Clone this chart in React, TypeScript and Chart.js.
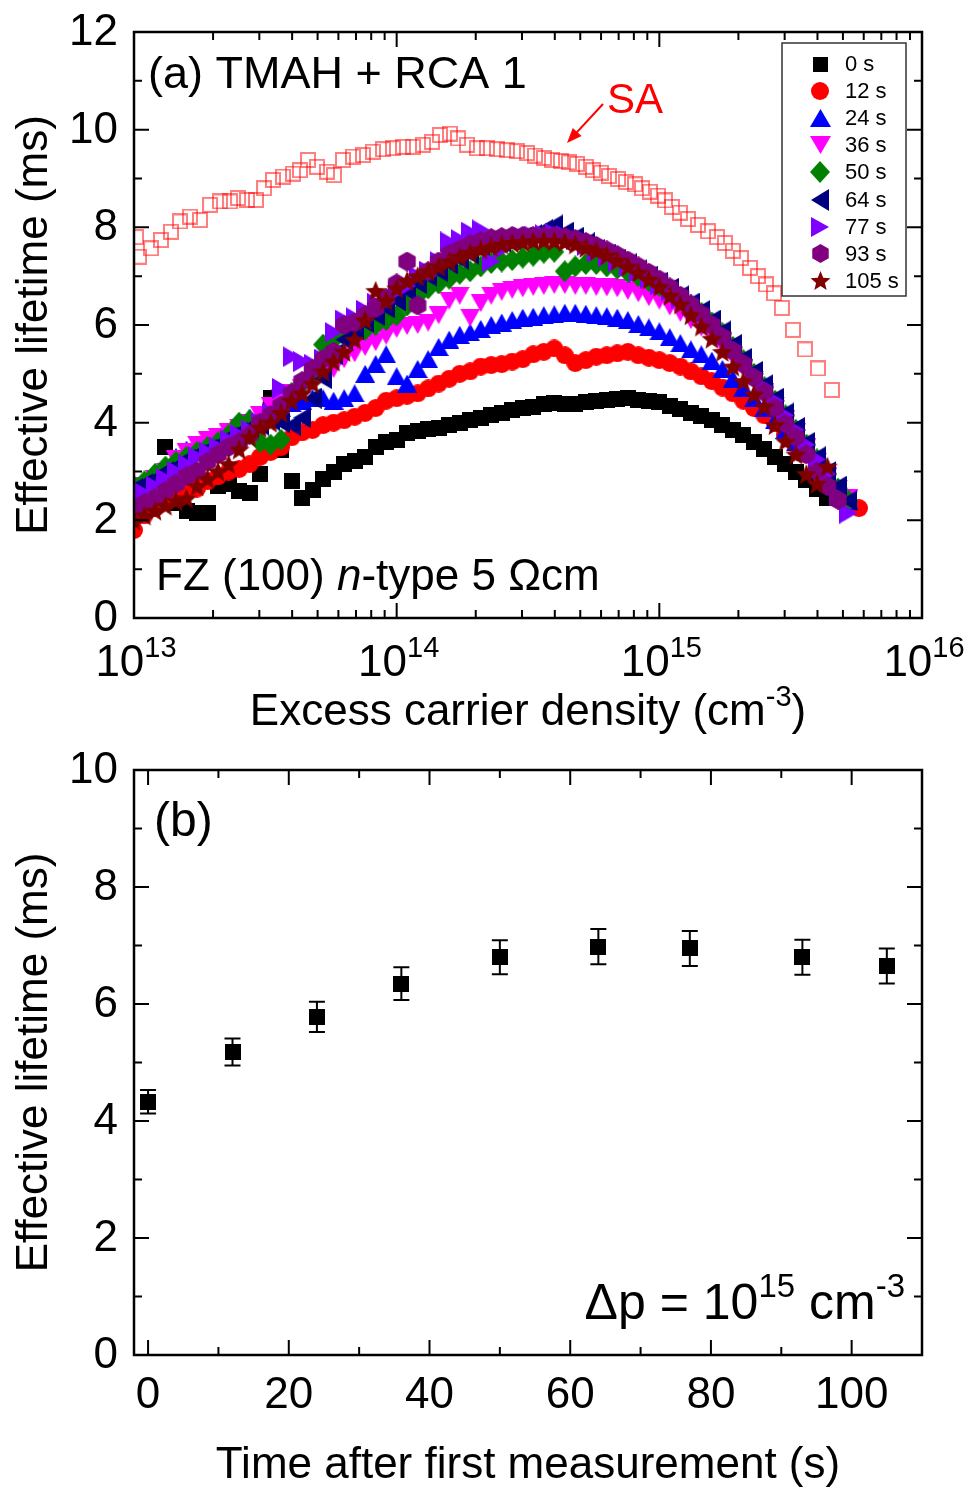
import React, { useEffect, useRef } from 'react';
import { Chart, registerables } from 'chart.js';

Chart.register(...registerables);

const FONT = '"Liberation Sans", Arial, Helvetica, sans-serif';

// ---------------- Panel (a) data ----------------
// shared excess-carrier-density grid (cm^-3)
const densityGrid = [
  1.000e13, 1.096e13, 1.202e13, 1.318e13, 1.445e13, 1.585e13, 1.738e13, 1.905e13, 2.089e13, 2.291e13,
  2.512e13, 2.754e13, 3.020e13, 3.311e13, 3.631e13, 3.981e13, 4.365e13, 4.786e13, 5.248e13, 5.754e13,
  6.310e13, 6.918e13, 7.586e13, 8.318e13, 9.120e13, 1.000e14, 1.096e14, 1.202e14, 1.318e14, 1.445e14,
  1.585e14, 1.738e14, 1.905e14, 2.089e14, 2.291e14, 2.512e14, 2.754e14, 3.020e14, 3.311e14, 3.631e14,
  3.981e14, 4.365e14, 4.786e14, 5.248e14, 5.754e14, 6.310e14, 6.918e14, 7.586e14, 8.318e14, 9.120e14,
  1.000e15, 1.096e15, 1.202e15, 1.318e15, 1.445e15, 1.585e15, 1.738e15, 1.905e15, 2.089e15, 2.291e15,
  2.512e15, 2.754e15, 3.020e15, 3.311e15, 3.631e15, 3.981e15, 4.365e15, 4.786e15, 5.248e15, 5.754e15,
];

const tau0s = [
  2.2, 2.3, 2.45, 3.5, 2.35, 2.2, 2.15, 2.15, 2.7, 2.75,
  2.6, 2.55, 2.95, 4.5, 3.45, 2.8, 2.45, 2.62, 2.85, 3.0,
  3.15, 3.22, 3.3, 3.5, 3.6, 3.65, 3.78, 3.83, 3.87, 3.9,
  3.95, 4.0, 4.05, 4.1, 4.15, 4.2, 4.25, 4.3, 4.33, 4.38,
  4.4, 4.38, 4.38, 4.42, 4.45, 4.47, 4.48, 4.5, 4.47, 4.45,
  4.42, 4.35, 4.28, 4.2, 4.13, 4.05, 3.95, 3.85, 3.75, 3.6,
  3.47, 3.3, 3.15, 3.0, 2.83, 2.65, 2.45, null, null, null,
];
const tau12s = [
  1.8, 2.1, 2.25, 2.4, 2.5, 2.6, 2.65, 2.8, 2.9, 3.0,
  3.05, 3.15, 3.3, 3.4, 3.5, 3.7, 3.8, 3.85, 3.95, 4.0,
  4.05, 4.12, 4.2, 4.3, 4.45, 4.5, 4.55, 4.6, 4.7, 4.8,
  4.9, 5.0, 5.05, 5.15, 5.18, 5.2, 5.25, 5.3, 5.4, 5.45,
  5.52, 5.38, 5.22, 5.28, 5.35, 5.38, 5.42, 5.45, 5.38, 5.33,
  5.28, 5.22, 5.15, 5.05, 4.95, 4.85, 4.72, 4.6, 4.45, 4.3,
  4.15, 4.0, 3.75, 3.55, 3.35, 3.1, 2.9, 2.65, 2.45, 2.25,
];
const tau24s = [
  2.7, 2.75, 2.9, 3.1, 3.3, 3.45, 3.5, 3.6, 3.7, 3.8,
  3.9, 4.1, 4.15, 4.25, 4.3, 4.4, 4.45, 4.5, 4.5, 4.45,
  4.5, 4.6, 5.0, 5.2, 5.4, 4.95, 4.8, 5.1, 5.3, 5.55,
  5.7, 5.8, 5.85, 5.92, 6.0, 6.05, 6.1, 6.15, 6.17, 6.2,
  6.22, 6.25, 6.25, 6.23, 6.2, 6.18, 6.15, 6.1, 6.02, 5.95,
  5.87, 5.75, 5.63, 5.5, 5.4, 5.27, 5.1, 4.9, 4.72, 4.5,
  4.3, 4.05, 3.85, 3.6, 3.4, 3.1, 2.85, 2.6, 2.4, null,
];
const tau36s = [
  2.5, 2.7, 2.85, 3.0, 3.25, 3.4, 3.55, 3.65, 3.7, 3.8,
  3.9, 4.0, 4.15, 4.35, 4.5, 4.6, 4.7, 4.85, 5.0, 5.1,
  5.3, 5.42, 5.55, 5.65, 5.78, 5.92, 5.98, 6.0, 6.05, 6.2,
  6.5, 6.6, 6.15, 6.45, 6.6, 6.68, 6.72, 6.75, 6.78, 6.8,
  6.82, 6.82, 6.8, 6.8, 6.78, 6.77, 6.75, 6.7, 6.65, 6.57,
  6.5, 6.38, 6.25, 6.1, 5.95, 5.78, 5.58, 5.35, 5.12, 4.88,
  4.62, 4.35, 4.08, 3.8, 3.5, 3.2, 2.9, 2.65, 2.45, null,
];
const tau50s = [
  2.7, 2.8, 2.95, 3.1, 3.2, 3.3, 3.4, 3.5, 3.6, 3.75,
  4.0, 4.05, 3.6, 3.55, 3.65, 4.6, 4.8, 5.0, 5.6, 5.7,
  5.8, 5.85, 5.9, 6.0, 6.1, 6.2, 6.4, 6.6, 6.75, 6.85,
  6.95, 7.05, 7.1, 7.2, 7.27, 7.3, 7.33, 7.38, 7.42, 7.48,
  7.5, 7.1, 7.2, 7.25, 7.25, 7.2, 7.15, 7.08, 7.0, 6.9,
  6.8, 6.68, 6.55, 6.4, 6.25, 6.05, 5.83, 5.55, 5.28, 5.0,
  4.73, 4.45, 4.15, 3.85, 3.55, 3.25, 2.95, 2.65, 2.4, null,
];
const tau64s = [
  2.65, 2.75, 2.85, 3.0, 3.1, 3.25, 3.35, 3.45, 3.55, 3.7,
  3.8, 3.9, 3.95, 4.05, 4.0, 3.95, 4.1, 4.5, 4.9, 5.4,
  5.7, 5.9, 6.05, 6.2, 6.35, 6.5, 6.7, 6.85, 7.0, 7.1,
  7.25, 7.35, 7.45, 7.55, 7.62, 7.7, 7.75, 7.8, 7.85, 7.95,
  8.05, 7.9, 7.8, 7.68, 7.55, 7.45, 7.35, 7.25, 7.13, 7.0,
  6.88, 6.75, 6.6, 6.45, 6.3, 6.1, 5.88, 5.6, 5.32, 5.05,
  4.78, 4.5, 4.2, 3.9, 3.6, 3.3, 3.0, 2.7, 2.4, null,
];
const tau77s = [
  2.4, 2.55, 2.7, 2.85, 3.0, 3.15, 3.3, 3.4, 3.5, 3.65,
  3.75, 3.85, 4.0, 4.2, 4.7, 5.35, 5.25, 5.2, 5.3, 5.85,
  6.1, 6.15, 6.3, 6.45, 6.55, 6.7, 6.8, 7.0, 7.1, 7.3,
  7.7, 7.75, 7.9, 7.95, 7.3, 7.55, 7.7, 7.8, 7.82, 7.85,
  7.87, 7.83, 7.75, 7.63, 7.5, 7.4, 7.3, 7.2, 7.08, 6.95,
  6.83, 6.7, 6.55, 6.4, 6.25, 6.05, 5.83, 5.55, 5.27, 5.0,
  4.73, 4.45, 4.15, 3.85, 3.55, 3.25, 2.95, 2.5, 2.15, null,
];
const tau93s = [
  2.25, 2.35, 2.45, 2.6, 2.75, 2.9, 3.0, 3.2, 3.35, 3.5,
  3.6, 3.75, 4.0, 4.15, 4.35, 4.6, 4.85, 5.1, 5.3, 5.45,
  6.0, 6.05, 6.2, 6.35, 6.55, 6.85, 7.3, 6.4, 7.1, 7.3,
  7.45, 7.55, 7.65, 7.72, 7.78, 7.8, 7.82, 7.82, 7.82, 7.82,
  7.82, 7.8, 7.76, 7.7, 7.62, 7.53, 7.43, 7.32, 7.2, 7.07,
  6.93, 6.77, 6.6, 6.42, 6.22, 6.0, 5.75, 5.47, 5.2, 4.92,
  4.62, 4.3, 3.98, 3.7, 3.35, 3.0, 2.7, 2.42, null, null,
];
const tau105s = [
  2.0, 2.1, 2.2, 2.3, 2.4, 2.45, 2.7, 2.85, 3.0, 3.15,
  3.45, 3.7, 3.9, 4.0, 4.2, 4.45, 4.6, 4.8, 5.05, 5.25,
  5.45, 5.7, 6.1, 6.7, 6.5, 6.75, 6.9, 7.0, 7.1, 7.2,
  7.3, 7.4, 7.48, 7.55, 7.6, 7.65, 7.68, 7.7, 7.72, 7.73,
  7.72, 7.7, 7.65, 7.58, 7.52, 7.43, 7.32, 7.2, 7.07, 6.93,
  6.78, 6.6, 6.42, 6.2, 5.97, 5.72, 5.45, 5.15, 4.85, 4.58,
  4.33, 3.95, 3.62, 3.35, 2.95, 2.75, 3.1, null, null, null,
];

// SA reference curve (open squares)
const saDensity = [
  1.018e13, 1.045e13, 1.161e13, 1.267e13, 1.383e13, 1.497e13, 1.634e13, 1.783e13, 1.947e13, 2.125e13,
  2.320e13, 2.489e13, 2.693e13, 2.913e13, 3.126e13, 3.382e13, 3.692e13, 4.030e13, 4.284e13, 4.597e13,
  4.973e13, 5.428e13, 5.771e13, 6.246e13, 6.817e13, 7.442e13, 8.125e13, 8.869e13, 9.681e13, 1.057e14,
  1.154e14, 1.259e14, 1.362e14, 1.462e14, 1.596e14, 1.712e14, 1.852e14, 2.021e14, 2.207e14, 2.409e14,
  2.630e14, 2.871e14, 3.133e14, 3.361e14, 3.637e14, 3.901e14, 4.221e14, 4.528e14, 4.858e14, 5.255e14,
  5.588e14, 5.994e14, 6.429e14, 6.958e14, 7.464e14, 8.076e14, 8.587e14, 9.209e14, 9.878e14, 1.050e15,
  1.117e15, 1.198e15, 1.285e15, 1.403e15, 1.531e15, 1.657e15, 1.777e15, 1.906e15, 2.045e15, 2.213e15,
  2.373e15, 2.546e15, 2.731e15, 2.929e15, 3.226e15, 3.583e15, 4.017e15, 4.539e15,
];
const saTau = [
  7.8, 7.4, 7.57, 7.74, 7.91, 8.12, 8.22, 8.15, 8.46, 8.53,
  8.53, 8.6, 8.56, 8.56, 8.8, 8.97, 9.04, 9.1, 9.17, 9.38,
  9.24, 9.14, 9.07, 9.38, 9.45, 9.48, 9.55, 9.6, 9.62, 9.65,
  9.65, 9.69, 9.75, 9.89, 9.92, 9.82, 9.69, 9.62, 9.62, 9.6,
  9.58, 9.56, 9.52, 9.47, 9.42, 9.38, 9.36, 9.33, 9.3, 9.24,
  9.17, 9.12, 9.05, 8.99, 8.93, 8.88, 8.8, 8.73, 8.65, 8.55,
  8.42, 8.3, 8.17, 8.05, 7.92, 7.8, 7.68, 7.52, 7.37, 7.17,
  7.0, 6.83, 6.65, 6.35, 5.9, 5.5, 5.11, 4.67,
];

const seriesLabels = ['0 s', '12 s', '24 s', '36 s', '50 s', '64 s', '77 s', '93 s', '105 s'];
const seriesValues = [tau0s, tau12s, tau24s, tau36s, tau50s, tau64s, tau77s, tau93s, tau105s];
const seriesColors = ['#000000', '#ff0000', '#0000ff', '#ff00ff', '#008000', '#000080', '#8000ff', '#800080', '#800000'];
const seriesShapes = ['square', 'circle', 'triUp', 'triDown', 'diamond', 'triLeft', 'triRight', 'hexagon', 'star'];

const xDecadesA = [13, 14, 15, 16];
const yTicksA = [0, 2, 4, 6, 8, 10, 12];

// ---------------- Panel (b) data ----------------
const timeB = [0, 12, 24, 36, 50, 64, 77, 93, 105];
const tauB = [4.33, 5.18, 5.78, 6.35, 6.8, 6.98, 6.95, 6.8, 6.65];
const errB = [0.2, 0.23, 0.26, 0.28, 0.29, 0.3, 0.3, 0.3, 0.3];
const xTicksB = [0, 20, 40, 60, 80, 100];
const yTicksB = [0, 2, 4, 6, 8, 10];

// ---------------- markers ----------------
const markerSizes: Record<string, [number, number]> = {
  square: [16, 16], circle: [18, 18], triUp: [20, 18], triDown: [20, 18], diamond: [20, 22],
  triLeft: [18, 21], triRight: [18, 21], hexagon: [20, 20], star: [22, 22], openSquare: [16, 16], bigSquare: [16, 16],
};
const legendSizes: Record<string, [number, number]> = {
  square: [15, 15], circle: [18, 18], triUp: [21, 18], triDown: [21, 18], diamond: [20, 22],
  triLeft: [18, 22], triRight: [18, 20], hexagon: [19, 19], star: [21, 21],
};

function makeMarker(shape: string, color: string, size?: [number, number]): HTMLCanvasElement {
  const [w, h] = size || markerSizes[shape];
  const c = document.createElement('canvas');
  c.width = w;
  c.height = h;
  const g = c.getContext('2d') as CanvasRenderingContext2D;
  g.fillStyle = color;
  g.strokeStyle = color;
  g.beginPath();
  switch (shape) {
    case 'square':
    case 'bigSquare':
      g.rect(0, 0, w, h);
      break;
    case 'circle':
      g.arc(w / 2, h / 2, w / 2, 0, Math.PI * 2);
      break;
    case 'triUp':
      g.moveTo(w / 2, 0); g.lineTo(w, h); g.lineTo(0, h);
      break;
    case 'triDown':
      g.moveTo(0, 0); g.lineTo(w, 0); g.lineTo(w / 2, h);
      break;
    case 'triLeft':
      g.moveTo(0, h / 2); g.lineTo(w, 0); g.lineTo(w, h);
      break;
    case 'triRight':
      g.moveTo(0, 0); g.lineTo(w, h / 2); g.lineTo(0, h);
      break;
    case 'diamond':
      g.moveTo(w / 2, 0); g.lineTo(w, h / 2); g.lineTo(w / 2, h); g.lineTo(0, h / 2);
      break;
    case 'hexagon': {
      const r = h / 2;
      for (let i = 0; i < 6; i++) {
        const a = (-90 + 60 * i) * Math.PI / 180;
        const px = w / 2 + r * Math.cos(a);
        const py = h / 2 + r * Math.sin(a);
        if (i === 0) g.moveTo(px, py); else g.lineTo(px, py);
      }
      break;
    }
    case 'star': {
      const R = w / 2;
      const rIn = R * 0.44;
      const cx = w / 2;
      const cy = h / 2 + 1;
      for (let i = 0; i < 10; i++) {
        const rr = i % 2 === 0 ? R : rIn;
        const a = (-90 + 36 * i) * Math.PI / 180;
        const px = cx + rr * Math.cos(a);
        const py = cy + rr * Math.sin(a);
        if (i === 0) g.moveTo(px, py); else g.lineTo(px, py);
      }
      break;
    }
    case 'openSquare':
      g.lineWidth = 2;
      g.strokeRect(1, 1, w - 2, h - 2);
      return c;
  }
  g.closePath();
  g.fill();
  return c;
}

// ---------------- text helpers ----------------
type Part = { t: string; sup?: boolean; italic?: boolean };

function drawRich(ctx: CanvasRenderingContext2D, parts: Part[], x: number, y: number, size: number,
  align: 'left' | 'center' | 'right', color = '#000') {
  const supSize = Math.round(size * 0.66);
  const fontOf = (p: Part) => `${p.italic ? 'italic ' : ''}${p.sup ? supSize : size}px ${FONT}`;
  let total = 0;
  for (const p of parts) { ctx.font = fontOf(p); total += ctx.measureText(p.t).width; }
  let cx = align === 'left' ? x : align === 'center' ? x - total / 2 : x - total;
  ctx.fillStyle = color;
  ctx.textAlign = 'left';
  ctx.textBaseline = 'alphabetic';
  for (const p of parts) {
    ctx.font = fontOf(p);
    ctx.fillText(p.t, cx, p.sup ? y - size * 0.44 : y);
    cx += ctx.measureText(p.t).width;
  }
}

const BIG = 44;

function drawFrame(ctx: CanvasRenderingContext2D, a: any) {
  ctx.save();
  ctx.strokeStyle = '#000';
  ctx.lineWidth = 2.5;
  ctx.strokeRect(a.left, a.top, a.right - a.left, a.bottom - a.top);
  ctx.restore();
}

function tickX(ctx: CanvasRenderingContext2D, a: any, x: number, len: number) {
  ctx.moveTo(x, a.bottom); ctx.lineTo(x, a.bottom - len);
  ctx.moveTo(x, a.top); ctx.lineTo(x, a.top + len);
}
function tickY(ctx: CanvasRenderingContext2D, a: any, y: number, len: number) {
  ctx.moveTo(a.left, y); ctx.lineTo(a.left + len, y);
  ctx.moveTo(a.right, y); ctx.lineTo(a.right - len, y);
}

function drawYTitle(ctx: CanvasRenderingContext2D, text: string, x: number, yc: number) {
  ctx.save();
  ctx.translate(x, yc);
  ctx.rotate(-Math.PI / 2);
  ctx.font = `${BIG}px ${FONT}`;
  ctx.fillStyle = '#000';
  ctx.textAlign = 'center';
  ctx.textBaseline = 'alphabetic';
  ctx.fillText(text, 0, 0);
  ctx.restore();
}

let legendMarkers: HTMLCanvasElement[] = [];

// ---------------- plugins ----------------
const plotAPlugin = {
  id: 'plotADecor',
  afterDraw(chart: any) {
    const { ctx, chartArea: a, scales } = chart;
    const xs = scales.x;
    const ys = scales.y;
    ctx.save();
    drawFrame(ctx, a);
    ctx.strokeStyle = '#000';
    ctx.lineWidth = 2;
    ctx.beginPath();
    for (const e of xDecadesA) {
      tickX(ctx, a, xs.getPixelForValue(Math.pow(10, e)), 15);
      if (e < xDecadesA[xDecadesA.length - 1]) {
        for (let m = 2; m <= 9; m++) tickX(ctx, a, xs.getPixelForValue(m * Math.pow(10, e)), 8);
      }
    }
    for (let v = yTicksA[0]; v <= yTicksA[yTicksA.length - 1]; v++) {
      tickY(ctx, a, ys.getPixelForValue(v), v % 2 === 0 ? 15 : 8);
    }
    ctx.stroke();
    for (const e of xDecadesA) {
      drawRich(ctx, [{ t: '10' }, { t: String(e), sup: true }], xs.getPixelForValue(Math.pow(10, e)) + 2, a.bottom + 58, BIG, 'center');
    }
    ctx.font = `${BIG}px ${FONT}`;
    ctx.fillStyle = '#000';
    ctx.textAlign = 'right';
    ctx.textBaseline = 'middle';
    for (const v of yTicksA) ctx.fillText(String(v), a.left - 16, ys.getPixelForValue(v) + 1);
    drawYTitle(ctx, 'Effective lifetime (ms)', 47, (a.top + a.bottom) / 2);
    drawRich(ctx, [{ t: 'Excess carrier density (cm' }, { t: '-3', sup: true }, { t: ')' }], (a.left + a.right) / 2, a.bottom + 107, BIG, 'center');
    drawRich(ctx, [{ t: '(a) TMAH + RCA 1' }], a.left + 14, a.top + 56, 45, 'left');
    drawRich(ctx, [{ t: 'FZ (100) ' }, { t: 'n', italic: true }, { t: '-type 5 \u03A9cm' }], a.left + 22, a.bottom - 28, BIG, 'left');
    drawRich(ctx, [{ t: 'SA' }], 607, 113, 42, 'left', '#ff0000');
    // arrow
    const x1 = 603, y1 = 104, x2 = 567, y2 = 143;
    const ang = Math.atan2(y2 - y1, x2 - x1);
    ctx.strokeStyle = '#ff0000';
    ctx.fillStyle = '#ff0000';
    ctx.lineWidth = 2;
    ctx.beginPath();
    ctx.moveTo(x1, y1);
    ctx.lineTo(x2 - 10 * Math.cos(ang), y2 - 10 * Math.sin(ang));
    ctx.stroke();
    ctx.beginPath();
    ctx.moveTo(x2, y2);
    ctx.lineTo(x2 - 15 * Math.cos(ang) + 6 * Math.sin(ang), y2 - 15 * Math.sin(ang) - 6 * Math.cos(ang));
    ctx.lineTo(x2 - 15 * Math.cos(ang) - 6 * Math.sin(ang), y2 - 15 * Math.sin(ang) + 6 * Math.cos(ang));
    ctx.closePath();
    ctx.fill();
    // legend
    const lx = a.right - 140;
    const ly = a.top + 11;
    ctx.strokeStyle = '#333';
    ctx.lineWidth = 1.5;
    ctx.strokeRect(lx, ly, 124, 253);
    ctx.font = `22px ${FONT}`;
    ctx.fillStyle = '#000';
    ctx.textAlign = 'left';
    ctx.textBaseline = 'middle';
    seriesLabels.forEach((lab, i) => {
      const y = ly + 21 + i * 27.1;
      const img = legendMarkers[i];
      ctx.drawImage(img, Math.round(lx + 38 - img.width / 2), Math.round(y - img.height / 2));
      ctx.fillText(lab, lx + 63, y + 1);
    });
    ctx.restore();
  },
};

const plotBPlugin = {
  id: 'plotBDecor',
  beforeDatasetsDraw(chart: any) {
    const { ctx, scales } = chart;
    const xs = scales.x;
    const ys = scales.y;
    ctx.save();
    ctx.strokeStyle = '#000';
    ctx.lineWidth = 2;
    ctx.beginPath();
    timeB.forEach((t, i) => {
      const x = xs.getPixelForValue(t);
      const yt = ys.getPixelForValue(tauB[i] + errB[i]);
      const yb = ys.getPixelForValue(tauB[i] - errB[i]);
      ctx.moveTo(x, yt); ctx.lineTo(x, yb);
      ctx.moveTo(x - 8, yt); ctx.lineTo(x + 8, yt);
      ctx.moveTo(x - 8, yb); ctx.lineTo(x + 8, yb);
    });
    ctx.stroke();
    ctx.restore();
  },
  afterDraw(chart: any) {
    const { ctx, chartArea: a, scales } = chart;
    const xs = scales.x;
    const ys = scales.y;
    ctx.save();
    drawFrame(ctx, a);
    ctx.strokeStyle = '#000';
    ctx.lineWidth = 2;
    ctx.beginPath();
    for (let v = xTicksB[0]; v <= xTicksB[xTicksB.length - 1]; v += 10) {
      tickX(ctx, a, xs.getPixelForValue(v), v % 20 === 0 ? 15 : 8);
    }
    for (let v = yTicksB[0]; v <= yTicksB[yTicksB.length - 1]; v++) {
      tickY(ctx, a, ys.getPixelForValue(v), v % 2 === 0 ? 15 : 8);
    }
    ctx.stroke();
    ctx.font = `${BIG}px ${FONT}`;
    ctx.fillStyle = '#000';
    ctx.textAlign = 'center';
    ctx.textBaseline = 'alphabetic';
    for (const v of xTicksB) ctx.fillText(String(v), xs.getPixelForValue(v), a.bottom + 53);
    ctx.textAlign = 'right';
    ctx.textBaseline = 'middle';
    for (const v of yTicksB) ctx.fillText(String(v), a.left - 16, ys.getPixelForValue(v) + 1);
    drawYTitle(ctx, 'Effective lifetime (ms)', 47, (a.top + a.bottom) / 2);
    drawRich(ctx, [{ t: 'Time after first measurement (s)' }], (a.left + a.right) / 2, a.bottom + 123, BIG, 'center');
    drawRich(ctx, [{ t: '(b)' }], a.left + 20, a.top + 66, 48, 'left');
    drawRich(ctx, [{ t: '\u0394p = 10' }, { t: '15', sup: true }, { t: ' cm' }, { t: '-3', sup: true }], a.right - 17, a.bottom - 36, 50, 'right');
    ctx.restore();
  },
};

function buildConfigA(): any {
  const markers = seriesShapes.map((s, i) => makeMarker(s, seriesColors[i]));
  legendMarkers = seriesShapes.map((s, i) => makeMarker(s, seriesColors[i], legendSizes[s]));
  const saMarker = makeMarker('openSquare', 'rgba(255,0,0,0.5)');
  const datasets: any[] = [
    {
      label: 'SA',
      data: saDensity.map((x, i) => ({ x, y: saTau[i] })),
      pointStyle: saMarker,
      pointRadius: 8,
      showLine: false,
      order: 200,
      clip: 0,
    },
  ];
  seriesValues.forEach((vals, i) => {
    const pts: { x: number; y: number }[] = [];
    densityGrid.forEach((x, k) => {
      const y = vals[k];
      if (y !== null && y !== undefined) pts.push({ x, y });
    });
    datasets.push({
      label: seriesLabels[i],
      data: pts,
      pointStyle: markers[i],
      pointRadius: 8,
      showLine: false,
      order: 100 - i,
      clip: 0,
    });
  });
  return {
    type: 'scatter',
    data: { datasets },
    options: {
      animation: false,
      responsive: false,
      devicePixelRatio: 1,
      events: [],
      layout: { padding: { top: 32, right: 46, left: 0, bottom: 0 } },
      plugins: { legend: { display: false }, tooltip: { enabled: false }, title: { display: false } },
      scales: {
        x: {
          type: 'logarithmic', min: 1e13, max: 1e16, position: 'bottom',
          grid: { display: false }, border: { display: false }, ticks: { display: false },
          afterFit: (s: any) => { s.height = 126; },
        },
        y: {
          type: 'linear', min: 0, max: 12, position: 'left',
          grid: { display: false }, border: { display: false }, ticks: { display: false },
          afterFit: (s: any) => { s.width = 134; },
        },
      },
    },
    plugins: [plotAPlugin],
  };
}

function buildConfigB(): any {
  const marker = makeMarker('bigSquare', '#000000');
  return {
    type: 'scatter',
    data: {
      datasets: [
        {
          label: 'lifetime at 1e15',
          data: timeB.map((x, i) => ({ x, y: tauB[i] })),
          pointStyle: marker,
          pointRadius: 8,
          showLine: false,
        },
      ],
    },
    options: {
      animation: false,
      responsive: false,
      devicePixelRatio: 1,
      events: [],
      layout: { padding: { top: 26, right: 46, left: 0, bottom: 0 } },
      plugins: { legend: { display: false }, tooltip: { enabled: false }, title: { display: false } },
      scales: {
        x: {
          type: 'linear', min: -2, max: 110, position: 'bottom',
          grid: { display: false }, border: { display: false }, ticks: { display: false },
          afterFit: (s: any) => { s.height = 133; },
        },
        y: {
          type: 'linear', min: 0, max: 10, position: 'left',
          grid: { display: false }, border: { display: false }, ticks: { display: false },
          afterFit: (s: any) => { s.width = 134; },
        },
      },
    },
    plugins: [plotBPlugin],
  };
}

export default function App() {
  const refA = useRef<HTMLCanvasElement>(null);
  const refB = useRef<HTMLCanvasElement>(null);
  useEffect(() => {
    const chartA = new Chart(refA.current as HTMLCanvasElement, buildConfigA());
    const chartB = new Chart(refB.current as HTMLCanvasElement, buildConfigB());
    return () => {
      chartA.destroy();
      chartB.destroy();
    };
  }, []);
  return (
    <div style={{ position: 'absolute', left: 0, top: 0, width: 968, height: 1488, background: '#ffffff' }}>
      <canvas ref={refA} width={968} height={744}
        style={{ position: 'absolute', left: 0, top: 0, width: 968, height: 744, display: 'block' }} />
      <canvas ref={refB} width={968} height={744}
        style={{ position: 'absolute', left: 0, top: 744, width: 968, height: 744, display: 'block' }} />
    </div>
  );
}
